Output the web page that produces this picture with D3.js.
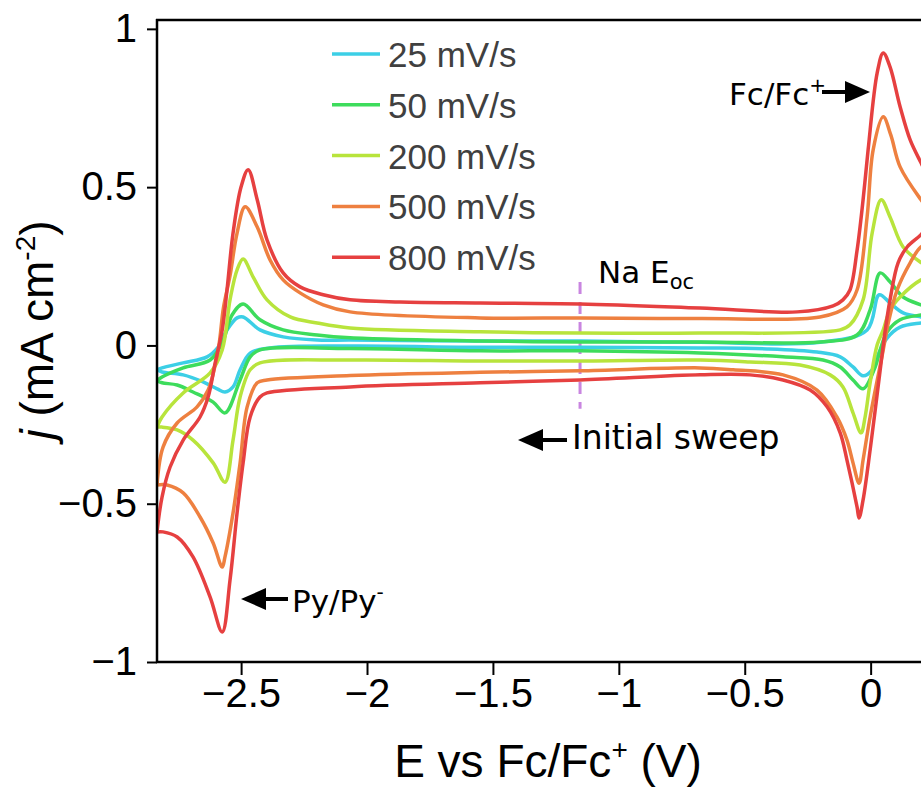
<!DOCTYPE html>
<html><head><meta charset="utf-8">
<script src="https://cdn.jsdelivr.net/npm/d3@7"></script>
<style>body{margin:0;background:#fff}</style>
</head><body>
<svg id="chart" width="921" height="790"></svg>
<script>
// ---- data (E in V vs Fc/Fc+, j in mA cm^-2), loops: anodic branch then cathodic branch ----
const scanRates = ["25 mV/s", "50 mV/s", "200 mV/s", "500 mV/s", "800 mV/s"];

const cv25 = [[-2.834,-0.077],[-2.814,-0.071],[-2.730,-0.055],[-2.635,-0.036],[-2.591,-0.005],[-2.556,0.049],[-2.516,0.087],[-2.492,0.090],[-2.425,0.049],[-2.333,0.027],[-2.198,0.017],[-2.067,0.017],[-1.551,0.014],[-1.154,0.014],[-0.677,0.010],[-0.201,0.010],[-0.014,0.049],[0.034,0.160],[0.077,0.134],[0.129,0.103],[0.200,0.090],[0.25,0.085],[0.28,0.08],[0.25,0.075],[0.200,0.071],
  [0.117,0.058],[0.066,0.024],[0.026,-0.036],[0.006,-0.077],[-0.030,-0.096],[-0.070,-0.068],[-0.121,-0.036],[-0.213,-0.021],[-0.411,-0.011],[-0.677,-0.008],[-1.154,-0.006],[-1.551,-0.006],[-2.067,-0.002],[-2.385,-0.008],[-2.464,-0.024],[-2.504,-0.077],[-2.532,-0.131],[-2.564,-0.147],[-2.595,-0.137],[-2.651,-0.115],[-2.730,-0.093],[-2.814,-0.084],[-2.834,-0.077]];

const cv50 = [[-2.834,-0.112],[-2.814,-0.100],[-2.730,-0.071],[-2.623,-0.046],[-2.575,0.008],[-2.536,0.096],[-2.492,0.131],[-2.425,0.081],[-2.333,0.049],[-2.198,0.033],[-2.067,0.024],[-1.551,0.014],[-1.154,0.011],[-0.677,0.011],[-0.201,0.011],[-0.054,0.033],[-0.002,0.112],[0.038,0.229],[0.077,0.201],[0.129,0.153],[0.200,0.128],[0.25,0.115],[0.28,0.11],[0.25,0.10],[0.200,0.096],
  [0.117,0.081],[0.066,0.043],[0.038,-0.014],[0.018,-0.068],[-0.030,-0.137],[-0.070,-0.109],[-0.121,-0.068],[-0.189,-0.046],[-0.348,-0.036],[-0.677,-0.024],[-1.154,-0.017],[-1.551,-0.017],[-2.067,-0.010],[-2.425,-0.014],[-2.464,-0.036],[-2.504,-0.109],[-2.564,-0.213],[-2.611,-0.179],[-2.691,-0.147],[-2.754,-0.125],[-2.814,-0.118],[-2.834,-0.112]];

const cv200 = [[-2.834,-0.258],[-2.814,-0.226],[-2.730,-0.150],[-2.623,-0.087],[-2.575,-0.014],[-2.544,0.144],[-2.516,0.239],[-2.492,0.273],[-2.452,0.216],[-2.397,0.144],[-2.305,0.090],[-2.198,0.071],[-2.067,0.055],[-1.551,0.043],[-1.154,0.039],[-0.677,0.039],[-0.121,0.049],[-0.082,0.065],[-0.030,0.144],[0.006,0.355],[0.042,0.460],[0.077,0.406],[0.129,0.311],[0.200,0.262],[0.25,0.24],[0.28,0.23],[0.25,0.22],[0.200,0.207],
  [0.117,0.153],[0.077,0.112],[0.050,0.049],[0.026,0.002],[-0.002,-0.118],[-0.022,-0.226],[-0.038,-0.276],[-0.070,-0.213],[-0.110,-0.131],[-0.161,-0.093],[-0.280,-0.062],[-0.479,-0.052],[-0.677,-0.046],[-1.154,-0.049],[-1.551,-0.049],[-2.067,-0.046],[-2.425,-0.055],[-2.464,-0.077],[-2.504,-0.163],[-2.532,-0.299],[-2.564,-0.432],[-2.611,-0.371],[-2.691,-0.299],[-2.754,-0.267],[-2.814,-0.258],[-2.834,-0.258]];

const cv500 = [[-2.834,-0.441],[-2.810,-0.321],[-2.754,-0.245],[-2.675,-0.194],[-2.631,-0.141],[-2.591,-0.014],[-2.570,0.120],[-2.544,0.220],[-2.516,0.355],[-2.484,0.438],[-2.436,0.374],[-2.385,0.270],[-2.333,0.207],[-2.266,0.166],[-2.174,0.128],[-2.067,0.106],[-1.551,0.087],[-1.154,0.087],[-0.677,0.085],[-0.201,0.090],[-0.094,0.122],[-0.054,0.175],[-0.014,0.406],[0.010,0.618],[0.050,0.722],[0.080,0.665],[0.117,0.564],[0.200,0.460],[0.26,0.40],[0.30,0.36],[0.26,0.33],[0.200,0.311],
  [0.157,0.261],[0.105,0.175],[0.070,0.071],[0.050,-0.014],[-0.002,-0.226],[-0.030,-0.362],[-0.046,-0.435],[-0.070,-0.371],[-0.094,-0.299],[-0.134,-0.226],[-0.213,-0.141],[-0.348,-0.093],[-0.546,-0.077],[-0.677,-0.071],[-1.154,-0.080],[-1.551,-0.085],[-2.067,-0.095],[-2.397,-0.109],[-2.436,-0.118],[-2.476,-0.194],[-2.504,-0.371],[-2.532,-0.529],[-2.564,-0.668],[-2.575,-0.700],[-2.611,-0.624],[-2.663,-0.542],[-2.730,-0.466],[-2.794,-0.441],[-2.834,-0.441]];

const cv800 = [[-2.834,-0.589],[-2.814,-0.479],[-2.782,-0.384],[-2.730,-0.299],[-2.663,-0.226],[-2.631,-0.163],[-2.603,-0.055],[-2.575,0.049],[-2.556,0.175],[-2.532,0.355],[-2.500,0.501],[-2.472,0.555],[-2.436,0.460],[-2.397,0.333],[-2.333,0.229],[-2.266,0.185],[-2.174,0.160],[-2.067,0.144],[-1.869,0.137],[-1.551,0.134],[-1.154,0.131],[-0.677,0.118],[-0.292,0.106],[-0.149,0.125],[-0.110,0.144],[-0.082,0.175],[-0.054,0.300],[-0.030,0.460],[-0.010,0.618],[0.026,0.861],[0.050,0.924],[0.077,0.880],[0.117,0.754],[0.157,0.649],[0.200,0.577],[0.25,0.50],[0.30,0.45],[0.25,0.40],[0.200,0.350],
  [0.145,0.311],[0.109,0.261],[0.077,0.144],[0.058,0.049],[0.038,-0.077],[-0.002,-0.330],[-0.030,-0.488],[-0.046,-0.545],[-0.054,-0.510],[-0.094,-0.362],[-0.121,-0.276],[-0.173,-0.194],[-0.240,-0.141],[-0.348,-0.109],[-0.479,-0.093],[-0.677,-0.093],[-1.154,-0.109],[-1.551,-0.118],[-2.067,-0.131],[-2.397,-0.150],[-2.425,-0.163],[-2.464,-0.226],[-2.492,-0.371],[-2.516,-0.529],[-2.544,-0.741],[-2.575,-0.905],[-2.623,-0.795],[-2.691,-0.668],[-2.754,-0.605],[-2.810,-0.589],[-2.834,-0.589]];

const seriesData = [cv25, cv50, cv200, cv500, cv800];
const lineColors = ["#3ccfe6", "#3ddc5c", "#b8e43c", "#ee8040", "#e64040"];
const xTicks = [-2.5, -2, -1.5, -1, -0.5, 0];
const yTicks = [-1, -0.5, 0, 0.5, 1];
const naEoc = -1.154;

// ---- drawing ----
const svg = d3.select("#chart");
svg.append("rect").attr("width", 921).attr("height", 790).attr("fill", "#fff");

const x = d3.scaleLinear().domain([-2.834, 0.2]).range([157, 921]);
const y = d3.scaleLinear().domain([-1, 1.028]).range([662, 20]);

svg.append("defs").append("clipPath").attr("id", "plotclip")
  .append("rect").attr("x", 157).attr("y", 20).attr("width", 921 - 157).attr("height", 662 - 20);

const line = d3.line().x(d => x(d[0])).y(d => y(d[1])).curve(d3.curveCatmullRom.alpha(0.5));

const plot = svg.append("g").attr("clip-path", "url(#plotclip)");

// Na Eoc dashed marker
plot.append("line")
  .attr("x1", x(naEoc)).attr("x2", x(naEoc))
  .attr("y1", y(0.2)).attr("y2", y(-0.2))
  .attr("stroke", "#c985e0").attr("stroke-width", 3).attr("stroke-dasharray", "12,8");

plot.selectAll("path.cv").data(seriesData).join("path")
  .attr("class", "cv")
  .attr("d", line)
  .attr("fill", "none")
  .attr("stroke", (d, i) => lineColors[i])
  .attr("stroke-width", 3.5)
  .attr("stroke-linejoin", "round");

// axes
const axFont = "'Liberation Sans', Arial, sans-serif";
const yAxis = svg.append("g").attr("transform", "translate(157,0)")
  .call(d3.axisLeft(y).tickValues(yTicks).tickSize(10).tickPadding(10).tickFormat(d3.format("")));
const xAxis = svg.append("g").attr("transform", "translate(0,662)")
  .call(d3.axisBottom(x).tickValues(xTicks).tickSize(13).tickPadding(4).tickFormat(d3.format("")));
[yAxis, xAxis].forEach(g => {
  g.select(".domain").remove();
  g.selectAll(".tick line").attr("stroke", "#000").attr("stroke-width", 2);
  g.selectAll(".tick text").attr("font-family", axFont).attr("font-size", 40).attr("fill", "#000");
});

// frame
const frame = svg.append("g").attr("stroke", "#000").attr("stroke-width", 2.5);
frame.append("line").attr("x1", 157).attr("x2", 157).attr("y1", 19).attr("y2", 663);
frame.append("line").attr("x1", 156).attr("x2", 921).attr("y1", 662).attr("y2", 662);
frame.append("line").attr("x1", 156).attr("x2", 921).attr("y1", 20).attr("y2", 20);

// axis titles
const xt = svg.append("text").attr("x", 548).attr("y", 777).attr("text-anchor", "middle")
  .attr("font-family", axFont).attr("font-size", 46).attr("fill", "#000");
xt.append("tspan").text("E vs Fc/Fc");
xt.append("tspan").attr("font-size", 28).attr("dy", -18).text("+");
xt.append("tspan").attr("dy", 18).text(" (V)");

const yt = svg.append("text").attr("transform", "translate(53,330) rotate(-90)").attr("text-anchor", "middle")
  .attr("font-family", axFont).attr("font-size", 46).attr("fill", "#000");
yt.append("tspan").attr("font-style", "italic").text("j");
yt.append("tspan").text(" (mA cm");
yt.append("tspan").attr("font-size", 28).attr("dy", -18).text("-2");
yt.append("tspan").attr("dy", 18).text(")");

// legend
const leg = svg.append("g");
scanRates.forEach((s, i) => {
  const ly = 54 + i * 50.8;
  leg.append("line").attr("x1", 332).attr("x2", 380).attr("y1", ly).attr("y2", ly)
    .attr("stroke", lineColors[i]).attr("stroke-width", 3.5);
  leg.append("text").attr("x", 388).attr("y", ly + 13).attr("font-family", axFont)
    .attr("font-size", 35).attr("fill", "#404040").text(s);
});

// annotations
const anFont = "'DejaVu Sans', Verdana, sans-serif";
function arrow(x0, x1, yy) { // from tail x0 to tip x1
  const dir = Math.sign(x1 - x0), headLen = 25, hw = 11;
  const base = x1 - dir * headLen;
  svg.append("line").attr("x1", x0).attr("x2", base).attr("y1", yy).attr("y2", yy)
    .attr("stroke", "#000").attr("stroke-width", 4);
  svg.append("path").attr("d", `M${x1},${yy}L${base},${yy - hw}L${base},${yy + hw}Z`).attr("fill", "#000");
}
const fc = svg.append("text").attr("x", 729).attr("y", 105).attr("font-family", anFont).attr("font-size", 31).attr("fill", "#000");
fc.append("tspan").text("Fc/Fc");
fc.append("tspan").attr("font-size", 20).attr("dy", -13).text("+");
arrow(822, 870, 92);

const na = svg.append("text").attr("x", 598).attr("y", 283).attr("font-family", anFont).attr("font-size", 31).attr("fill", "#000");
na.append("tspan").text("Na E");
na.append("tspan").attr("font-size", 21).attr("dy", 6).text("oc");

svg.append("text").attr("x", 572).attr("y", 449).attr("font-family", anFont).attr("font-size", 33).attr("fill", "#000").text("Initial sweep");
arrow(567, 518, 440);

const py = svg.append("text").attr("x", 292).attr("y", 612).attr("font-family", anFont).attr("font-size", 31).attr("fill", "#000");
py.append("tspan").text("Py/Py");
py.append("tspan").attr("font-size", 20).attr("dy", -13).text("-");
arrow(288, 241, 599);
</script>
</body></html>
